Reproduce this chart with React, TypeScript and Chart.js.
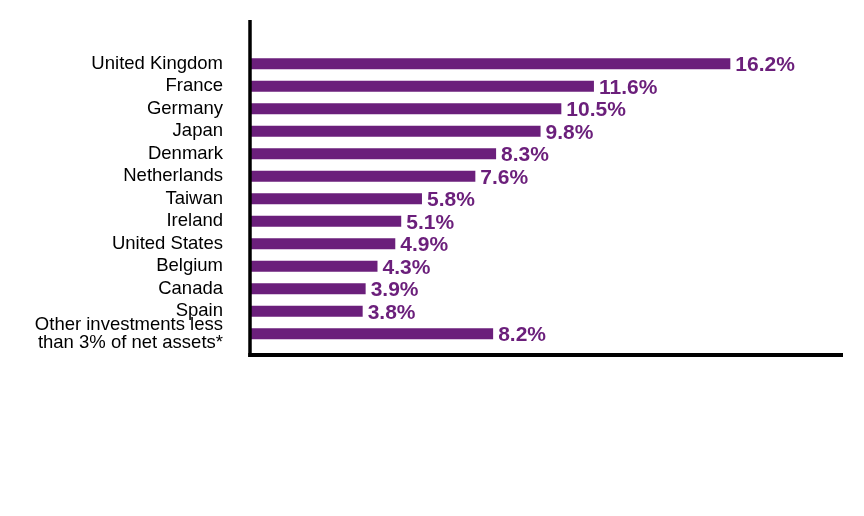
import React, { useEffect, useRef } from "react";
import { Chart, registerables } from "chart.js";

Chart.register(...registerables);

const categories: (string | string[])[] = [
  "United Kingdom",
  "France",
  "Germany",
  "Japan",
  "Denmark",
  "Netherlands",
  "Taiwan",
  "Ireland",
  "United States",
  "Belgium",
  "Canada",
  "Spain",
  ["Other investments less", "than 3% of net assets*"],
];
const values: number[] = [16.2, 11.6, 10.5, 9.8, 8.3, 7.6, 5.8, 5.1, 4.9, 4.3, 3.9, 3.8, 8.2];
const valueLabels: string[] = values.map((v) => v.toFixed(1) + "%");

const PURPLE = "#6b1f7b";
const FONT = "'Liberation Sans', Arial, sans-serif";

const axisLines = {
  id: "axisLines",
  afterDatasetsDraw(chart: any) {
    const { ctx, chartArea } = chart;
    ctx.save();
    ctx.strokeStyle = "#000";
    ctx.lineWidth = 3.5;
    ctx.beginPath();
    ctx.moveTo(chartArea.left, chartArea.top - 32.5);
    ctx.lineTo(chartArea.left, chartArea.bottom + 12);
    ctx.stroke();
    ctx.lineWidth = 4;
    ctx.beginPath();
    ctx.moveTo(chartArea.left - 1.75, chartArea.bottom + 10);
    ctx.lineTo(chartArea.right, chartArea.bottom + 10);
    ctx.stroke();
    ctx.restore();
  },
};

const valueLabelPlugin = {
  id: "valueLabels",
  afterDatasetsDraw(chart: any) {
    const { ctx } = chart;
    const meta = chart.getDatasetMeta(0);
    ctx.save();
    ctx.fillStyle = PURPLE;
    ctx.font = `bold 21px ${FONT}`;
    ctx.textAlign = "left";
    ctx.textBaseline = "middle";
    meta.data.forEach((bar: any, i: number) => {
      ctx.fillText(valueLabels[i], bar.x + 5, bar.y + 1.5);
    });
    ctx.restore();
  },
};

export default function App() {
  const ref = useRef<HTMLCanvasElement | null>(null);
  useEffect(() => {
    if (!ref.current) return;
    const chart = new Chart(ref.current, {
      type: "bar",
      data: {
        labels: categories as any,
        datasets: [
          {
            data: values,
            backgroundColor: PURPLE,
            borderWidth: 0,
            categoryPercentage: 1,
            barPercentage: 0.49,
          },
        ],
      },
      options: {
        indexAxis: "y",
        animation: false,
        responsive: false,
        maintainAspectRatio: false,
        layout: { padding: { left: 0, right: 21, top: 52.5, bottom: 171 } },
        plugins: { legend: { display: false }, tooltip: { enabled: false } },
        scales: {
          x: {
            display: false,
            min: 0,
            max: 20,
          },
          y: {
            grid: { display: false, drawTicks: false },
            border: { display: false },
            afterFit(scale: any) {
              scale.width = 250;
            },
            ticks: {
              autoSkip: false,
              padding: 27,
              color: "#000",
              font: { family: FONT, size: 18.5, lineHeight: 0.95 },
            },
          },
        },
      },
      plugins: [axisLines, valueLabelPlugin],
    });
    return () => chart.destroy();
  }, []);
  return (
    <div style={{ position: "fixed", left: 0, top: 0, width: 864, height: 516, background: "#fff" }}>
      <canvas ref={ref} width={864} height={516} style={{ width: 864, height: 516 }} />
    </div>
  );
}
